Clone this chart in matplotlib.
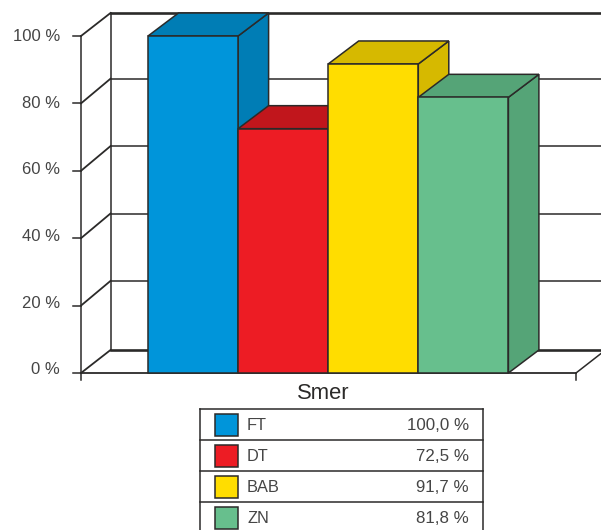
"""Pseudo-3D bar chart of the Smer shares with a legend table below it."""

import matplotlib

matplotlib.use('Agg')
import matplotlib.pyplot as plt
from matplotlib.patches import Polygon, Rectangle

categories = ['FT', 'DT', 'BAB', 'ZN']
values = [100.0, 72.5, 91.7, 81.8]
y_ticks = [0, 20, 40, 60, 80, 100]
front_colors = ['#0095DA', '#ED1C24', '#FFDD00', '#67BF8D']
shade_colors = ['#007DB5', '#C1161C', '#D6B900', '#55A477']

WIDTH, HEIGHT = 601, 530
LINE = '#2b2a29'
TEXT = '#454545'

plt.rcParams['font.family'] = ['Liberation Sans', 'DejaVu Sans']

# pixel positions of the plot frame, used to set up the data scales
BAR_LEFT, BAR_RIGHT = 148.0, 508.4
Y_ZERO, Y_HUNDRED = 373.0, 36.0
x_scale = (BAR_RIGHT - BAR_LEFT) / len(values)
y_scale = (Y_ZERO - Y_HUNDRED) / 100

# depth of the bars and of the walls in data units
dx = 30.5 / x_scale
dy = 23 / y_scale
wall_dx = 29.5 / x_scale
grid_dy = 24.7 / y_scale
x_min = (81 - BAR_LEFT) / x_scale
x_max = (576 - BAR_LEFT) / x_scale

fig = plt.figure(figsize=(WIDTH / 100, HEIGHT / 100), dpi=100)
ax = fig.add_axes([0, 0, 1, 1])
ax.set_xlim(-BAR_LEFT / x_scale, (WIDTH - BAR_LEFT) / x_scale)
ax.set_ylim((Y_ZERO - HEIGHT) / y_scale, Y_ZERO / y_scale)
ax.axis('off')

# back wall and left wall; the inner grid lines sit a little higher on the wall
for tick in y_ticks:
    edge = tick in (0, 100)
    lw = 1.9 if edge else 1.1
    rise = dy if edge else grid_dy
    ax.plot([x_min + wall_dx, x_max + wall_dx], [tick + rise, tick + rise], color=LINE, lw=lw, zorder=1)
    ax.plot([x_min, x_min + wall_dx], [tick, tick + rise], color=LINE, lw=1.3, zorder=1)
    ax.plot([x_min - 8 / x_scale, x_min], [tick, tick], color=LINE, lw=1.1, zorder=1)
    # labels are spaced slightly tighter than the ticks
    ax.text(x_min - 21 / x_scale, 0.9 + tick * 0.9895, f'{tick} %', ha='right', va='center',
            fontsize=12, color=TEXT)

ax.plot([x_min, x_min], [-7 / y_scale, 100], color=LINE, lw=1.1, zorder=1)
ax.plot([x_min + wall_dx, x_min + wall_dx], [dy, 100 + dy], color=LINE, lw=1.1, zorder=1)

# floor
ax.plot([x_max, x_max], [-7 / y_scale, 0], color=LINE, lw=1.1, zorder=1)
ax.plot([x_max, x_max + wall_dx], [0, dy], color=LINE, lw=1.1, zorder=1)
ax.plot([x_min, x_max], [0, 0], color=LINE, lw=1.3, zorder=1)

# bars go left to right so each one covers the side of the previous
for i, value in enumerate(values):
    style = dict(edgecolor=LINE, linewidth=1.1, joinstyle='miter', zorder=2 + i)
    side = [(i + 1, 0), (i + 1 + dx, dy), (i + 1 + dx, value + dy), (i + 1, value)]
    top = [(i, value), (i + dx, value + dy), (i + 1 + dx, value + dy), (i + 1, value)]
    ax.add_patch(Polygon(side, facecolor=shade_colors[i], **style))
    ax.add_patch(Polygon(top, facecolor=shade_colors[i], **style))
    ax.add_patch(Rectangle((i, 0), 1, value, facecolor=front_colors[i], **style))

ax.text((323 - BAR_LEFT) / x_scale, -20.5 / y_scale, 'Smer', ha='center', va='center',
        fontsize=15.8, color=LINE)

# legend table, drawn on a pixel grid
table = fig.add_axes([0, 0, 1, 1])
table.set_xlim(0, WIDTH)
table.set_ylim(HEIGHT, 0)
table.axis('off')
table.patch.set_alpha(0)

TABLE_LEFT, TABLE_RIGHT = 200, 483
TABLE_TOP, ROW_HEIGHT = 409, 31
n_rows = len(categories)
table.plot([TABLE_LEFT, TABLE_LEFT], [TABLE_TOP, TABLE_TOP + n_rows * ROW_HEIGHT], color=LINE, lw=1.1)
table.plot([TABLE_RIGHT, TABLE_RIGHT], [TABLE_TOP, TABLE_TOP + n_rows * ROW_HEIGHT], color=LINE, lw=1.1)
for row, (name, value) in enumerate(zip(categories, values)):
    y = TABLE_TOP + row * ROW_HEIGHT
    table.plot([TABLE_LEFT, TABLE_RIGHT], [y, y], color=LINE, lw=1.1)
    table.add_patch(Rectangle((215, y + 4.5), 23, 22.5, facecolor=front_colors[row],
                              edgecolor=LINE, linewidth=1.1))
    table.text(247, y + 16.8, name, ha='left', va='center', fontsize=11.8, color=TEXT)
    label = f'{value:.1f} %'.replace('.', ',')
    table.text(469, y + 16.8, label, ha='right', va='center', fontsize=12.2, color=TEXT)

fig.savefig('out.png', dpi=100)
